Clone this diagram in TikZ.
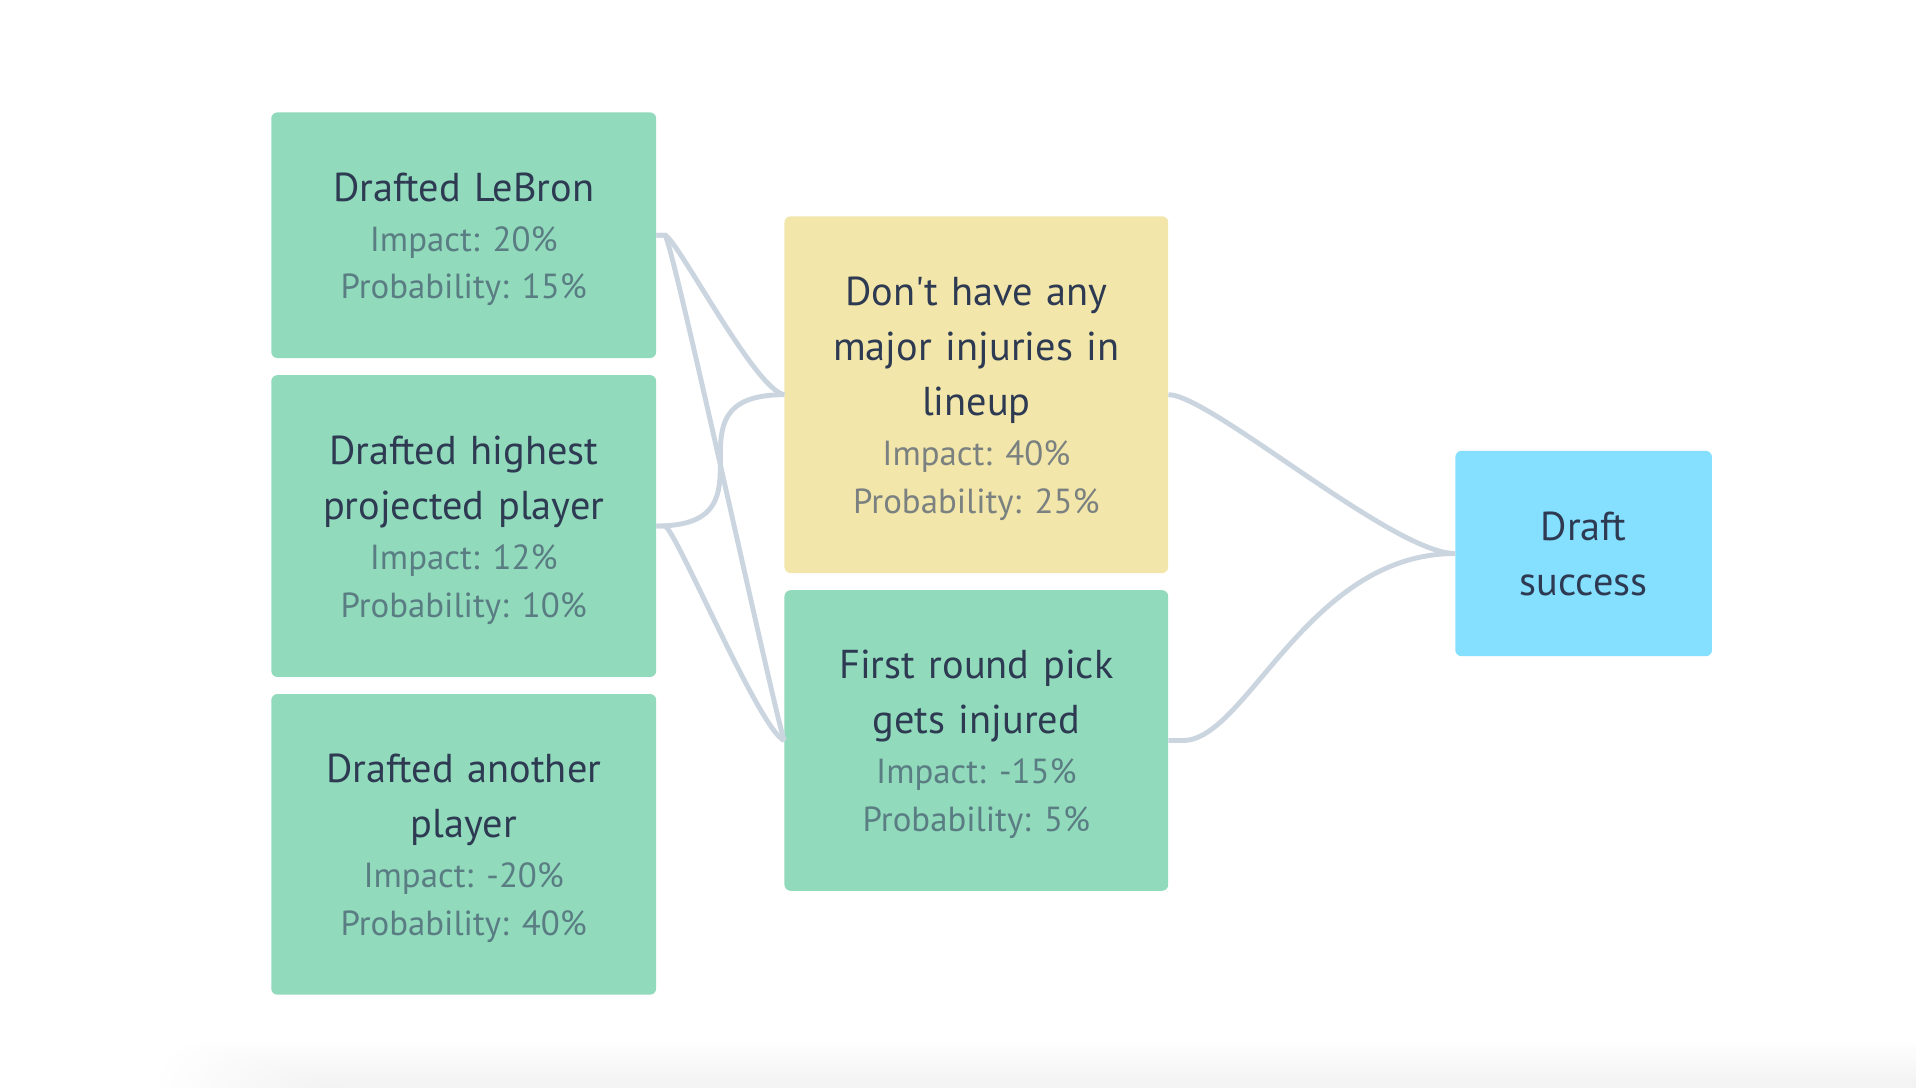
\documentclass[tikz,border=0pt]{standalone}
\usepackage{fontspec}
\setmainfont{PT Sans}[Ligatures=TeXOff]
\definecolor{boxgreen}{HTML}{91DBBC}
\definecolor{boxyellow}{HTML}{F2E6AA}
\definecolor{boxblue}{HTML}{85DFFE}
\definecolor{linkgray}{HTML}{CBD5E0}
\definecolor{titlecol}{HTML}{2D3A52}
\definecolor{subgreen}{HTML}{5A7D83}
\definecolor{subyellow}{HTML}{7A8180}
\newcommand{\ttl}{\fontsize{33}{45}\selectfont\spaceskip=0.34em\relax\color{titlecol}}
\newcommand{\subg}{\fontsize{28.5}{39}\selectfont\spaceskip=0.38em\relax\xspaceskip=0.38em\relax\color{subgreen}}
\newcommand{\suby}{\fontsize{28.5}{39}\selectfont\spaceskip=0.38em\relax\xspaceskip=0.38em\relax\color{subyellow}}
\newcommand{\topstrut}{\rule{0pt}{30pt}}
\tikzset{
  card/.style={rectangle, rounded corners=5pt, inner sep=0pt, align=center,
    text width=305pt, minimum width=315pt},
  link/.style={draw=linkgray, line width=4pt}
}
\begin{document}
\begin{tikzpicture}[x=1pt, y=-1pt]
\useasboundingbox (0,0) rectangle (1568,890);
\fill[white] (0,0) rectangle (1568,890);
% soft shadow at the bottom
\begin{scope}
\clip (0,0) rectangle (1568,890);
\foreach \k in {0,...,11}
  \fill[black, opacity=0.005, rounded corners=40pt] ({130+10*\k},{852+3*\k}) rectangle (1700,1000);
\end{scope}

\node[card, fill=boxgreen, minimum height=201pt] (lebron) at (379.5,192.5)
  {{\ttl\topstrut Drafted LeBron\par}\vspace{2pt}{\subg Impact: 20\%\par Probability: 15\%\par}};
\node[card, fill=boxgreen, minimum height=247pt] (high) at (379.5,430.5)
  {{\ttl\topstrut Drafted highest\\projected player\par}\vspace{2pt}{\subg Impact: 12\%\par Probability: 10\%\par}};
\node[card, fill=boxgreen, minimum height=246pt] (another) at (379.5,691)
  {{\ttl\topstrut Drafted another\\player\par}\vspace{2pt}{\subg Impact: -20\%\par Probability: 40\%\par}};
\node[card, fill=boxyellow, minimum height=292pt, minimum width=314pt] (dont) at (799,323)
  {{\ttl\topstrut Don't have any\\major injuries in\\lineup\par}\vspace{2pt}{\suby Impact: 40\%\par Probability: 25\%\par}};
\node[card, fill=boxgreen, minimum height=246pt, minimum width=314pt] (first) at (799,606)
  {{\ttl\topstrut First round pick\\gets injured\par}\vspace{2pt}{\subg Impact: -15\%\par Probability: 5\%\par}};
\node[card, fill=boxblue, minimum height=168pt, minimum width=210pt, text width=200pt] (draft) at (1296,453)
  {{\ttl Draft\\success\par}};

\draw[link] (lebron.east) -- ++(7,0) .. controls +(10,3) and +(-24,-4) .. (dont.west);
\draw[link] (lebron.east) -- ++(7,0) .. controls +(6,4) and +(-8,-22) .. (first.west);
\draw[link] (high.east) .. controls (high.east -| dont.west) and (dont.west -| high.east) .. (dont.west);
\draw[link] (high.east) -- ++(7,0) .. controls +(9,3) and +(-20,-8) .. (first.west);
\draw[link] (dont.east) .. controls +(34,0) and +(-51,0) .. (draft.west);
\draw[link] (first.east) -- ++(12,0) .. controls +(52,0) and +(-121,0) .. (draft.west);
\end{tikzpicture}
\end{document}
